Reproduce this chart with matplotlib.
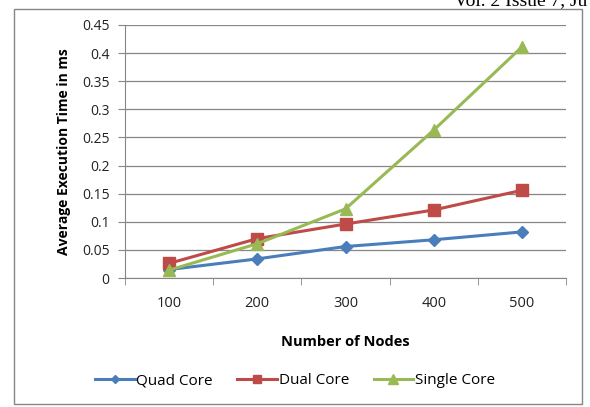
import matplotlib.pyplot as plt
from matplotlib.patches import Rectangle

nodos = ['100', '200', '300', '400', '500']
quad_core = [0.015, 0.034, 0.056, 0.068, 0.082]
dual_core = [0.026, 0.070, 0.096, 0.121, 0.156]
single_core = [0.014, 0.061, 0.123, 0.263, 0.411]

plt.rcParams['font.family'] = ['Open Sans', 'DejaVu Sans']

fig = plt.figure(figsize=(5.9, 4.07), dpi=100)
ax = fig.add_axes([125/590, 1 - 278/407, (566-125)/590, (278-25)/407])

x = range(len(nodos))
ax.plot(x, quad_core, color='#4a7ebb', marker='D', markersize=6, lw=2.2, label='Quad Core')
ax.plot(x, dual_core, color='#be4b48', marker='s', markersize=8, lw=2.2, label='Dual Core')
ax.plot(x, single_core, color='#98b954', marker='^', markersize=9, lw=2.2, label='Single Core')

ax.set_xlim(-0.5, 4.5)
ax.set_ylim(0, 0.45)
ax.set_yticks([i * 0.05 for i in range(10)])
ax.set_yticklabels(['0', '0.05', '0.1', '0.15', '0.2', '0.25', '0.3', '0.35', '0.4', '0.45'])
ax.set_xticks(x)
ax.set_xticklabels(nodos)
ax.set_xticks([i - 0.5 for i in range(6)], minor=True)
ax.tick_params(axis='x', which='major', length=0, pad=13, labelsize=10.5)
ax.tick_params(axis='x', which='minor', length=5, color='#868686')
ax.tick_params(axis='y', length=5, color='#868686', pad=6, labelsize=10)
ax.tick_params(labelcolor='#222222')
ax.grid(axis='y', color='#868686', lw=0.9)
ax.set_axisbelow(True)
for s in ['top', 'right']:
    ax.spines[s].set_visible(False)
for s in ['left', 'bottom']:
    ax.spines[s].set_color('#868686')

ax.set_xlabel('Number of Nodes', fontweight='bold', fontsize=10.5, labelpad=17)
ax.set_ylabel('Average Execution Time in ms', fontweight='bold', fontsize=10, labelpad=8)

fig.legend(loc='center', bbox_to_anchor=(0.5, 1 - 381/407), ncol=3, frameon=False,
           fontsize=11, handlelength=2.6, columnspacing=1.6, handletextpad=0.1,
           markerscale=0.75)

fig.patches.append(Rectangle((14/590, 1 - 404/407), (582-14)/590, (404-9)/407,
                             transform=fig.transFigure, fill=False, ec='#868686', lw=1))
fig.text(0.995, 1 - 5/407, 'Vol. 2 Issue 7, Ju', family='Liberation Serif', fontsize=14,
         ha='right', va='baseline', clip_on=False)

fig.savefig('out.png')
